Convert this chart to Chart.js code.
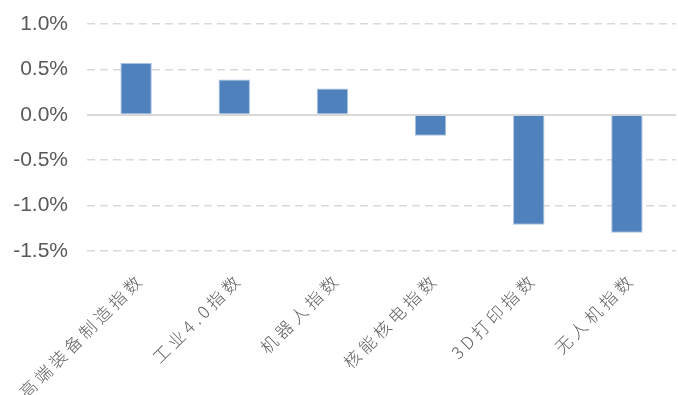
<!DOCTYPE html>
<html>
<head>
<meta charset="utf-8">
<script src="https://cdn.jsdelivr.net/npm/chart.js@4.4.1/dist/chart.umd.min.js"></script>
<style>
  html, body { margin: 0; padding: 0; background: #ffffff; }
  #wrap { width: 678px; height: 395px; position: relative; }
</style>
</head>
<body>
<div id="wrap"><canvas id="indexChart"></canvas></div>
<script>
// index names and their returns (%)
const indexNames = ['高端装备制造指数', '工业4.0指数', '机器人指数', '核能核电指数', '3D打印指数', '无人机指数'];
const returns = [0.57, 0.39, 0.29, -0.23, -1.21, -1.30];
const yTicks = [-1.5, -1.0, -0.5, 0.0, 0.5, 1.0];

const gridGrey = '#d9d9d9';
const textGrey = '#595959';

// x labels get a little extra letter spacing
const spacedLabels = {
  id: 'spacedLabels',
  afterLayout(chart) {
    const sx = chart.scales.x;
    if (sx._spaced) return;
    const orig = sx.drawLabels;
    sx.drawLabels = function (area) {
      this.ctx.save();
      this.ctx.letterSpacing = '4px';
      orig.call(this, area);
      this.ctx.restore();
    };
    sx._spaced = true;
  }
};

new Chart(document.getElementById('indexChart'), {
  type: 'bar',
  data: {
    labels: indexNames,
    datasets: [{
      data: returns,
      backgroundColor: '#4f81bd',
      borderColor: '#a9c1e0',
      borderWidth: 1,
      barPercentage: 0.32,
      categoryPercentage: 1.0
    }]
  },
  options: {
    responsive: true,
    maintainAspectRatio: false,
    animation: false,
    layout: { padding: { top: 24, right: 2, left: 0, bottom: 0 } },
    plugins: {
      legend: { display: false },
      tooltip: { enabled: false }
    },
    scales: {
      x: {
        grid: { display: false },
        border: { display: false },
        ticks: {
          minRotation: 45,
          maxRotation: 45,
          autoSkip: false,
          padding: 10,
          labelOffset: 5,
          color: '#606060',
          font: { family: '"Noto Sans CJK SC", sans-serif', size: 17, weight: '300' }
        },
        afterFit(scale) {
          scale.height = 144;
          scale.paddingLeft = 0;
          scale.paddingRight = 0;
        }
      },
      y: {
        min: -1.5,
        max: 1.0,
        afterBuildTicks(scale) { scale.ticks = yTicks.map(v => ({ value: v })); },
        border: {
          display: false,
          dash: ctx => (ctx.tick && ctx.tick.value === 0 ? [] : [8, 5])
        },
        grid: {
          color: gridGrey,
          lineWidth: ctx => (ctx.tick && ctx.tick.value === 0 ? 2 : 1.5),
          drawTicks: false
        },
        ticks: {
          padding: 19,
          color: textGrey,
          font: { family: 'Arial, "Liberation Sans", sans-serif', size: 21 },
          callback: v => v.toFixed(1) + '%'
        },
        afterFit(scale) {
          scale.width = 87;
          scale.paddingTop = 0;
          scale.paddingBottom = 0;
        }
      }
    }
  },
  plugins: [spacedLabels]
});
</script>
</body>
</html>
